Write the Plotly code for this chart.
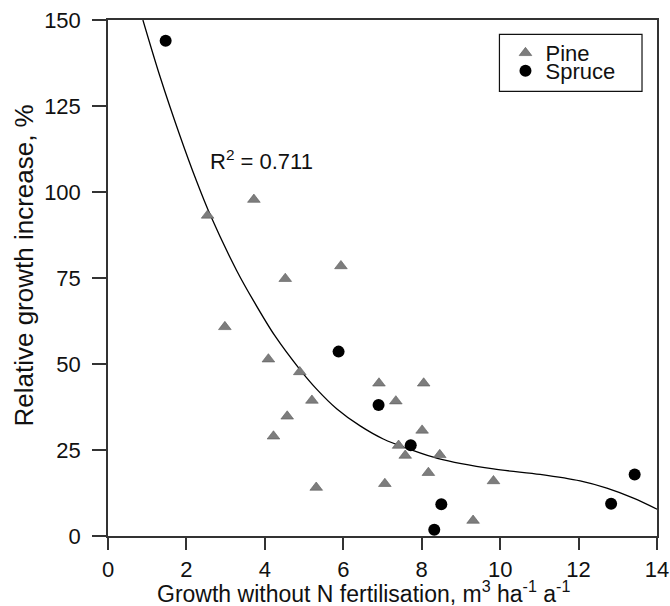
import plotly.graph_objects as go

# ---- data ----
pine_x = [2.54, 3.72, 4.52, 5.94, 2.98, 4.09, 4.89, 6.91, 8.05, 5.20, 7.34,
          4.57, 4.22, 8.01, 7.41, 7.58, 8.46, 8.17, 9.83, 5.31, 7.06, 9.31]
pine_y = [93.2, 97.8, 74.8, 78.5, 60.8, 51.4, 47.7, 44.4, 44.4, 39.4, 39.2,
          34.8, 29.0, 30.7, 26.3, 23.4, 23.6, 18.4, 16.0, 14.1, 15.2, 4.5]

spruce_x = [1.47, 5.88, 6.90, 7.72, 8.50, 8.32, 12.83, 13.43]
spruce_y = [144.0, 53.6, 38.1, 26.4, 9.2, 1.8, 9.4, 17.9]

# fitted trend curve
curve_x = [0.89, 1.32, 1.83, 2.26, 2.60, 3.28, 3.72, 4.25, 4.88, 5.32, 5.83,
           6.43, 7.02, 7.70, 8.40, 9.83, 11.02, 12.04, 12.72, 13.40, 14.0]
curve_y = [150.0, 133.8, 116.5, 103.1, 93.5, 77.2, 68.2, 58.3, 48.6, 42.7, 37.0,
           32.0, 28.2, 25.2, 22.6, 19.5, 17.9, 16.0, 13.9, 11.0, 7.8]

x_ticks = [0, 2, 4, 6, 8, 10, 12, 14]
y_ticks = [0, 25, 50, 75, 100, 125, 150]

r2_label = "R<sup>2</sup> = 0.711"
x_title = "Growth without N fertilisation, m<sup>3</sup> ha<sup>-1</sup> a<sup>-1</sup>"
y_title = "Relative growth increase, %"

FONT = "Liberation Sans, Arial, Helvetica, sans-serif"
TXT = "#111111"
AX = "#333333"

fig = go.Figure()

fig.add_trace(go.Scatter(
    x=curve_x, y=curve_y, mode="lines",
    line=dict(color="#000000", width=1.3, shape="spline", smoothing=0.9),
    showlegend=False, hoverinfo="skip"))

fig.add_trace(go.Scatter(
    x=pine_x, y=pine_y, mode="markers", name="Pine", legend="legend",
    marker=dict(symbol="triangle-up", size=11, color="#7d7d7d", line=dict(color="#5a5a5a", width=0.6))))

fig.add_trace(go.Scatter(
    x=spruce_x, y=spruce_y, mode="markers", name="Spruce", legend="legend2",
    marker=dict(symbol="circle", size=12, color="#000000", line=dict(width=0))))

axis_common = dict(
    showline=True, linecolor=AX, linewidth=1.5, mirror=True,
    ticks="outside", tickcolor=AX, tickwidth=1.5,
    showgrid=False, zeroline=False, automargin=False,
    ticklabeloverflow="allow",
    tickfont=dict(family=FONT, size=22, color=TXT),
)

fig.update_xaxes(range=[0, 14], tickvals=x_ticks, ticklen=12, ticklabelstandoff=1, **axis_common)
fig.update_yaxes(range=[0, 150], tickvals=y_ticks, ticklen=14, ticklabelstandoff=7, **axis_common)

legend_common = dict(
    xref="paper", yref="paper", x=0.724, xanchor="left", yanchor="top",
    bgcolor="rgba(0,0,0,0)", borderwidth=0,
    font=dict(family=FONT, size=22, color=TXT),
)

fig.update_layout(
    width=670, height=606,
    margin=dict(l=108, r=13, t=20, b=70, autoexpand=False),
    paper_bgcolor="white", plot_bgcolor="white",
    font=dict(family=FONT, size=22, color=TXT),
    showlegend=True,
    legend=dict(y=0.9767, **legend_common),
    legend2=dict(y=0.9419, **legend_common),
    shapes=[dict(type="rect", xref="paper", yref="paper",
                 x0=0.713, x1=0.9727, y0=0.8617, y1=0.972,
                 line=dict(color="#111111", width=1.2), fillcolor="rgba(0,0,0,0)", layer="above")],
    annotations=[
        dict(text=r2_label, x=2.55, y=109.3, xref="x", yref="y", xanchor="left", yanchor="middle",
             showarrow=False, font=dict(family=FONT, size=22, color=TXT)),
        dict(text=x_title, x=0.4663, y=-0.108, xref="paper", yref="paper", xanchor="center", yanchor="middle",
             showarrow=False, font=dict(family=FONT, size=23, color=TXT)),
        dict(text=y_title, x=-0.153, y=0.5242, xref="paper", yref="paper", xanchor="center", yanchor="middle",
             textangle=-90, showarrow=False, font=dict(family=FONT, size=26, color=TXT)),
    ],
)

# remove the page's default body margin so the 670x606 figure fills the window exactly
page_fix = "document.body.style.margin='0';document.body.style.overflow='hidden';"

fig.write_html("out.html", post_script=page_fix, config={"displayModeBar": False})
